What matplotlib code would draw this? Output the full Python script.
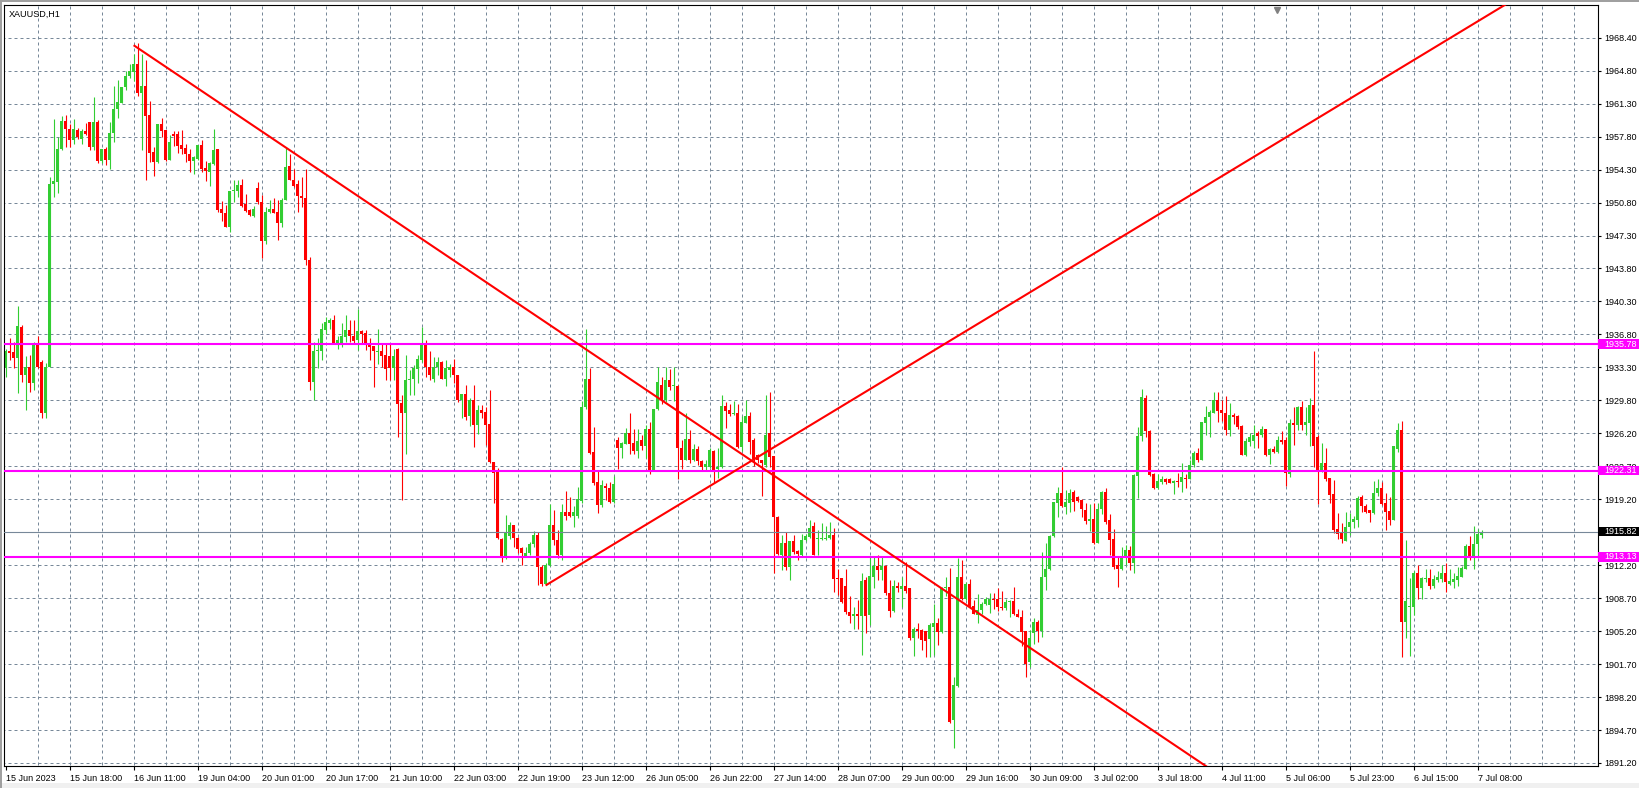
import numpy as np
import matplotlib
matplotlib.use('Agg')
import matplotlib.pyplot as plt
import matplotlib.transforms as mtransforms
from matplotlib.patches import Rectangle

symbol = 'XAUUSD,H1'

# hourly candles
opens = [
    1933.2, 1935.1, 1934.9, 1934.3, 1937.6, 1932.5, 1933.3, 1931.6, 1935.7, 1933.9,
    1928.4, 1933.3, 1952.8, 1953.0, 1956.5, 1959.5, 1958.7, 1957.5, 1958.6, 1957.6,
    1958.5, 1959.4, 1956.8, 1959.4, 1955.3, 1956.6, 1955.4, 1958.3, 1960.8, 1961.4,
    1963.1, 1964.3, 1964.8, 1965.6, 1962.5, 1963.3, 1960.2, 1956.2, 1955.2, 1959.2,
    1958.6, 1955.4, 1958.2, 1958.1, 1957.0, 1956.7, 1956.0, 1955.3, 1955.5, 1957.0,
    1954.5, 1954.1, 1955.0, 1956.5, 1950.2, 1949.7, 1948.3, 1952.1, 1952.1, 1952.7,
    1950.7, 1950.1, 1949.4, 1952.4, 1950.9, 1946.8, 1949.8, 1950.2, 1949.8, 1948.7,
    1951.1, 1954.7, 1953.3, 1952.8, 1951.5, 1951.3, 1944.7, 1931.8, 1935.0, 1935.1,
    1937.3, 1938.0, 1938.3, 1935.9, 1935.9, 1936.5, 1937.3, 1936.7, 1936.2, 1937.2,
    1937.0, 1935.75, 1935.6, 1934.9, 1935.05, 1934.6, 1934.5, 1933.2, 1935.3, 1929.5,
    1928.4, 1932.0, 1932.1, 1933.1, 1934.1, 1935.9, 1933.4, 1932.1, 1933.4, 1933.9,
    1932.1, 1933.0, 1933.3, 1932.5, 1929.8, 1930.5, 1928.1, 1929.8, 1927.2, 1928.8,
    1928.6, 1927.3, 1923.2, 1922.4, 1915.0, 1913.2, 1915.4, 1916.5, 1915.2, 1914.05,
    1913.2, 1913.5, 1914.5, 1915.5, 1912.1, 1910.3, 1912.3, 1916.5, 1914.9, 1913.3,
    1917.9, 1917.9, 1917.5, 1917.5, 1919.1, 1929.05, 1932.1, 1924.3, 1921.1, 1918.65,
    1920.7, 1920.5, 1919.0, 1925.6, 1924.7, 1925.2, 1926.3, 1925.3, 1924.45, 1925.6,
    1924.9, 1926.7, 1922.4, 1928.85, 1931.4, 1929.8, 1932.0, 1931.3, 1931.3, 1924.7,
    1923.5, 1925.65, 1923.5, 1924.6, 1923.35, 1922.7, 1922.7, 1924.4, 1922.5, 1922.7,
    1929.2, 1928.8, 1928.35, 1928.4, 1924.8, 1927.4, 1928.1, 1925.6, 1924.0, 1923.5,
    1922.9, 1926.3, 1923.9, 1917.4, 1913.3, 1914.6, 1912.1, 1914.8, 1913.8, 1913.35,
    1914.9, 1915.3, 1916.4, 1915.0, 1915.0, 1915.0, 1915.1, 1915.5, 1910.9, 1910.9,
    1910.05, 1907.3, 1906.8, 1907.05, 1906.8, 1910.7, 1906.95, 1910.97, 1912.2, 1911.7,
    1912.2, 1909.3, 1907.4, 1910.0, 1909.7, 1910.0, 1909.8, 1904.5, 1905.5, 1905.4,
    1905.3, 1904.4, 1905.7, 1906.1, 1905.1, 1909.8, 1909.9, 1895.8, 1899.4, 1911.0,
    1908.7, 1910.3, 1907.9, 1906.95, 1907.5, 1908.1, 1908.0, 1908.7, 1908.7, 1907.8,
    1907.7, 1908.3, 1908.4, 1907.06, 1906.7, 1905.3, 1902.0, 1905.0, 1906.25, 1905.2,
    1910.97, 1911.8, 1915.4, 1918.9, 1919.98, 1918.5, 1918.9, 1920.0, 1919.5, 1919.2,
    1918.1, 1917.0, 1917.2, 1914.65, 1918.2, 1920.0, 1917.05, 1915.0, 1912.3, 1911.9,
    1913.0, 1913.9, 1912.5, 1921.75, 1926.0, 1930.1, 1926.5, 1922.0, 1920.5, 1921.1,
    1921.4, 1921.4, 1921.0, 1921.2, 1921.1, 1921.5, 1921.4, 1922.9, 1924.2, 1923.5,
    1927.4, 1928.0, 1928.5, 1929.8, 1928.8, 1928.5, 1926.6, 1928.2, 1928.1, 1927.1,
    1924.0, 1925.4, 1925.5, 1926.3, 1926.1, 1926.7, 1924.0, 1924.6, 1924.3, 1925.6,
    1925.6, 1922.0, 1927.4, 1927.2, 1929.05, 1927.2, 1927.4, 1929.3, 1925.9, 1922.4,
    1923.1, 1921.5, 1919.8, 1916.1, 1915.7, 1914.8, 1916.3, 1916.8, 1917.1, 1919.5,
    1918.6, 1918.1, 1917.8, 1919.9, 1920.45, 1918.9, 1918.05, 1917.1, 1924.6, 1926.6,
    1906.2, 1907.8, 1907.8, 1911.4, 1909.8, 1910.75, 1910.85, 1910.0, 1910.7, 1910.75,
    1911.45, 1910.3, 1910.5, 1910.7, 1911.0, 1911.9, 1914.3, 1913.1, 1914.5, 1915.5,
]
highs = [
    1935.3, 1936.4, 1936.0, 1939.8, 1937.8, 1934.5, 1934.6, 1936.0, 1936.7, 1934.1,
    1933.8, 1953.6, 1959.7, 1957.8, 1960.1, 1960.2, 1959.2, 1959.7, 1958.8, 1958.7,
    1959.3, 1959.4, 1962.1, 1959.6, 1956.6, 1956.8, 1959.4, 1963.3, 1963.9, 1963.1,
    1964.9, 1965.6, 1966.7, 1967.8, 1966.7, 1966.0, 1961.7, 1956.8, 1959.2, 1959.8,
    1958.6, 1958.0, 1958.5, 1958.5, 1958.6, 1957.1, 1956.6, 1955.8, 1957.0, 1957.5,
    1955.3, 1955.2, 1958.7, 1956.5, 1951.0, 1950.6, 1952.1, 1953.3, 1953.3, 1953.4,
    1951.8, 1950.2, 1950.5, 1953.0, 1951.7, 1950.4, 1951.1, 1951.3, 1951.1, 1951.3,
    1956.8, 1956.0, 1954.4, 1953.2, 1953.6, 1954.4, 1945.1, 1936.0, 1936.4, 1938.0,
    1938.7, 1938.6, 1938.9, 1936.7, 1938.0, 1938.9, 1938.3, 1938.3, 1939.5, 1937.3,
    1937.3, 1936.4, 1935.6, 1937.35, 1935.9, 1935.75, 1935.8, 1935.3, 1935.4, 1930.4,
    1934.6, 1933.0, 1933.6, 1934.6, 1937.6, 1936.2, 1935.0, 1934.4, 1934.4, 1934.0,
    1934.1, 1933.7, 1934.2, 1932.5, 1930.5, 1931.4, 1930.0, 1931.4, 1929.3, 1929.3,
    1929.1, 1930.9, 1923.2, 1922.6, 1915.1, 1917.6, 1916.8, 1916.5, 1915.3, 1914.2,
    1914.2, 1914.75, 1915.9, 1915.8, 1912.3, 1912.5, 1918.8, 1918.1, 1916.0, 1918.8,
    1920.1, 1919.5, 1918.6, 1920.6, 1929.76, 1937.35, 1933.2, 1927.0, 1922.4, 1921.3,
    1921.0, 1921.1, 1921.7, 1925.9, 1925.4, 1926.9, 1928.5, 1926.7, 1926.8, 1926.1,
    1927.2, 1927.5, 1928.85, 1933.3, 1932.3, 1933.3, 1933.1, 1933.3, 1931.4, 1925.6,
    1928.4, 1926.6, 1925.2, 1924.9, 1923.5, 1923.5, 1924.7, 1924.5, 1924.7, 1930.4,
    1929.6, 1929.4, 1929.7, 1929.4, 1928.1, 1929.8, 1928.6, 1925.8, 1924.1, 1923.5,
    1930.4, 1930.7, 1923.9, 1917.5, 1915.5, 1915.8, 1914.8, 1915.5, 1913.9, 1915.6,
    1915.6, 1917.1, 1916.9, 1916.0, 1916.7, 1916.4, 1916.8, 1916.2, 1911.9, 1910.9,
    1911.9, 1909.0, 1907.8, 1908.5, 1911.4, 1911.0, 1913.2, 1913.2, 1913.3, 1913.2,
    1912.3, 1910.7, 1910.7, 1910.5, 1910.97, 1912.6, 1909.8, 1905.65, 1906.1, 1905.5,
    1905.3, 1906.1, 1908.1, 1906.6, 1909.97, 1911.0, 1912.0, 1900.4, 1913.0, 1912.8,
    1910.5, 1910.8, 1908.5, 1909.2, 1908.3, 1908.9, 1909.3, 1909.3, 1909.8, 1909.5,
    1908.7, 1908.55, 1909.9, 1907.6, 1907.5, 1905.3, 1905.4, 1906.6, 1906.4, 1913.7,
    1914.6, 1915.5, 1919.0, 1920.6, 1922.7, 1920.3, 1920.4, 1920.3, 1919.6, 1919.3,
    1918.9, 1918.8, 1918.9, 1918.9, 1920.2, 1920.5, 1917.7, 1916.1, 1913.1, 1914.15,
    1914.4, 1914.3, 1922.0, 1927.0, 1931.0, 1930.4, 1926.6, 1922.1, 1922.0, 1921.7,
    1921.5, 1921.5, 1921.3, 1922.1, 1923.1, 1921.96, 1923.45, 1924.4, 1924.7, 1927.5,
    1929.2, 1928.8, 1930.7, 1930.7, 1929.8, 1930.3, 1929.5, 1928.5, 1928.2, 1927.2,
    1925.75, 1926.3, 1927.2, 1926.5, 1927.1, 1926.8, 1924.7, 1924.9, 1926.0, 1926.5,
    1925.9, 1927.8, 1929.05, 1929.2, 1929.7, 1929.05, 1930.0, 1935.1, 1926.1, 1925.3,
    1924.7, 1921.5, 1921.3, 1917.8, 1916.7, 1917.95, 1917.8, 1917.5, 1919.6, 1919.7,
    1918.8, 1918.1, 1921.25, 1921.4, 1921.1, 1919.9, 1919.5, 1924.9, 1927.4, 1927.6,
    1914.9, 1910.85, 1911.6, 1912.3, 1911.0, 1911.9, 1911.9, 1911.2, 1911.6, 1912.3,
    1912.45, 1911.9, 1911.45, 1912.1, 1912.2, 1914.5, 1915.4, 1916.4, 1916.1, 1916.05,
]
lows = [
    1932.3, 1934.1, 1933.2, 1930.6, 1931.8, 1928.8, 1930.7, 1930.9, 1933.2, 1927.9,
    1927.9, 1933.3, 1951.4, 1951.9, 1956.4, 1956.8, 1956.8, 1957.1, 1957.6, 1957.1,
    1958.0, 1956.4, 1956.4, 1955.1, 1955.1, 1954.8, 1954.4, 1957.3, 1959.8, 1961.4,
    1962.8, 1964.1, 1963.8, 1962.2, 1956.4, 1953.2, 1955.2, 1953.7, 1955.1, 1957.8,
    1955.3, 1955.4, 1956.9, 1956.1, 1956.0, 1955.2, 1954.1, 1953.9, 1955.4, 1954.1,
    1953.1, 1952.6, 1954.8, 1949.9, 1948.9, 1948.2, 1947.7, 1950.9, 1951.4, 1950.4,
    1949.9, 1949.4, 1949.3, 1950.7, 1945.0, 1946.4, 1949.7, 1949.7, 1946.9, 1948.2,
    1951.1, 1953.2, 1952.5, 1949.8, 1950.4, 1944.2, 1930.9, 1929.8, 1933.2, 1934.1,
    1936.9, 1937.35, 1935.9, 1935.3, 1935.5, 1936.0, 1936.0, 1935.9, 1935.2, 1935.9,
    1935.15, 1934.1, 1931.2, 1933.7, 1933.4, 1932.0, 1932.0, 1932.0, 1925.9, 1919.2,
    1924.1, 1930.4, 1930.4, 1931.6, 1933.9, 1932.3, 1932.0, 1931.8, 1932.5, 1932.1,
    1931.3, 1932.3, 1931.6, 1929.65, 1927.9, 1927.7, 1927.1, 1924.8, 1926.2, 1927.9,
    1925.1, 1923.1, 1918.9, 1915.0, 1912.6, 1912.9, 1915.0, 1914.2, 1913.5, 1912.3,
    1913.2, 1913.3, 1914.2, 1910.1, 1910.0, 1910.1, 1912.2, 1914.4, 1913.0, 1912.8,
    1917.05, 1917.4, 1916.3, 1917.3, 1918.9, 1928.9, 1924.1, 1920.8, 1917.8, 1918.4,
    1919.2, 1918.9, 1918.9, 1922.5, 1923.7, 1925.2, 1924.1, 1924.1, 1923.7, 1924.5,
    1923.7, 1922.0, 1922.3, 1928.8, 1929.4, 1929.6, 1930.9, 1929.7, 1921.4, 1922.5,
    1923.4, 1923.1, 1923.3, 1922.9, 1922.3, 1922.3, 1922.6, 1920.97, 1921.5, 1922.6,
    1926.9, 1928.1, 1928.2, 1924.7, 1924.45, 1927.4, 1924.1, 1922.8, 1923.1, 1919.6,
    1922.7, 1922.7, 1911.4, 1913.3, 1911.75, 1911.7, 1910.7, 1913.45, 1912.8, 1913.2,
    1914.8, 1915.1, 1913.3, 1913.35, 1914.9, 1914.9, 1915.0, 1909.4, 1909.1, 1908.2,
    1907.1, 1906.1, 1905.5, 1905.5, 1902.7, 1905.0, 1905.9, 1909.8, 1910.7, 1910.7,
    1909.1, 1906.7, 1907.3, 1909.4, 1907.8, 1909.3, 1904.3, 1902.6, 1904.5, 1903.2,
    1902.5, 1902.5, 1902.7, 1903.8, 1905.0, 1909.0, 1895.5, 1892.8, 1899.3, 1908.6,
    1908.6, 1907.7, 1907.06, 1906.1, 1907.1, 1908.0, 1907.2, 1907.6, 1907.4, 1907.5,
    1907.5, 1906.7, 1906.96, 1906.7, 1903.6, 1900.4, 1901.4, 1903.9, 1904.1, 1904.6,
    1909.6, 1911.75, 1915.3, 1917.4, 1918.5, 1917.7, 1917.95, 1918.05, 1919.0, 1917.4,
    1916.6, 1915.9, 1914.5, 1914.6, 1917.7, 1916.6, 1913.3, 1911.9, 1909.97, 1911.7,
    1912.3, 1911.7, 1911.45, 1919.4, 1925.5, 1925.9, 1921.7, 1920.4, 1920.4, 1920.9,
    1920.9, 1921.0, 1919.8, 1920.6, 1920.0, 1920.5, 1921.4, 1922.7, 1923.2, 1923.45,
    1926.1, 1925.9, 1928.4, 1927.5, 1927.6, 1926.1, 1926.0, 1927.3, 1926.8, 1924.0,
    1923.9, 1924.9, 1924.7, 1924.7, 1925.9, 1923.9, 1923.0, 1924.2, 1924.2, 1925.2,
    1920.7, 1921.6, 1925.0, 1926.6, 1926.6, 1926.1, 1924.9, 1922.7, 1918.8, 1922.2,
    1921.25, 1918.9, 1915.7, 1915.0, 1914.65, 1914.8, 1915.5, 1916.2, 1916.3, 1917.95,
    1917.8, 1916.8, 1917.7, 1919.6, 1918.7, 1916.0, 1916.5, 1917.05, 1924.3, 1902.5,
    1904.5, 1902.6, 1906.95, 1908.7, 1908.7, 1910.5, 1909.7, 1909.8, 1910.5, 1910.5,
    1909.4, 1910.1, 1909.8, 1910.0, 1911.0, 1911.8, 1912.8, 1911.9, 1913.2, 1915.1,
]
closes = [
    1935.1, 1934.8, 1934.3, 1937.7, 1932.5, 1933.4, 1931.6, 1935.7, 1933.4, 1928.4,
    1933.3, 1952.8, 1953.1, 1956.5, 1959.5, 1958.7, 1957.5, 1958.7, 1957.8, 1958.5,
    1958.1, 1956.8, 1959.4, 1955.3, 1956.6, 1955.4, 1958.3, 1960.8, 1961.6, 1963.1,
    1964.3, 1964.9, 1965.6, 1962.5, 1963.3, 1960.1, 1956.1, 1955.2, 1959.2, 1958.5,
    1955.4, 1957.3, 1957.9, 1956.9, 1956.6, 1956.0, 1955.3, 1955.7, 1957.0, 1954.4,
    1954.2, 1955.1, 1956.4, 1950.1, 1949.7, 1948.3, 1952.1, 1952.1, 1952.7, 1950.5,
    1950.0, 1949.5, 1950.2, 1950.9, 1946.8, 1949.8, 1950.2, 1949.7, 1948.7, 1951.1,
    1954.6, 1953.3, 1952.6, 1951.5, 1951.3, 1944.7, 1931.8, 1935.0, 1935.2, 1937.35,
    1938.1, 1938.3, 1935.9, 1936.2, 1936.6, 1937.3, 1936.6, 1936.1, 1937.2, 1936.9,
    1935.8, 1935.5, 1935.0, 1935.05, 1934.5, 1933.1, 1933.2, 1934.5, 1929.4, 1928.4,
    1932.0, 1932.1, 1933.2, 1934.2, 1935.9, 1933.3, 1932.5, 1933.4, 1933.9, 1932.1,
    1933.2, 1933.3, 1932.5, 1929.8, 1930.5, 1928.0, 1929.8, 1927.2, 1928.8, 1928.5,
    1927.2, 1923.2, 1922.1, 1915.1, 1913.2, 1915.8, 1916.5, 1915.2, 1914.0, 1913.6,
    1913.5, 1914.5, 1915.5, 1912.1, 1910.3, 1912.3, 1916.5, 1914.9, 1913.3, 1917.9,
    1917.5, 1917.5, 1917.9, 1919.25, 1929.1, 1932.1, 1924.2, 1920.96, 1918.65, 1920.8,
    1920.5, 1919.0, 1920.9, 1924.7, 1925.3, 1926.3, 1925.2, 1924.45, 1925.5, 1924.9,
    1926.7, 1922.4, 1928.85, 1931.8, 1929.8, 1932.0, 1931.2, 1931.4, 1924.7, 1923.5,
    1925.65, 1923.5, 1924.6, 1923.3, 1922.7, 1923.0, 1924.5, 1922.4, 1922.7, 1929.2,
    1928.7, 1928.35, 1928.5, 1924.8, 1927.5, 1928.1, 1925.4, 1923.6, 1923.5, 1923.1,
    1926.1, 1923.8, 1917.35, 1913.45, 1914.6, 1912.1, 1914.8, 1913.7, 1913.45, 1914.9,
    1915.4, 1916.2, 1913.35, 1915.0, 1915.1, 1915.15, 1915.5, 1910.75, 1910.75, 1908.3,
    1907.3, 1906.8, 1907.05, 1906.8, 1910.6, 1906.8, 1911.1, 1912.2, 1911.75, 1912.2,
    1909.3, 1907.4, 1910.0, 1909.8, 1910.05, 1909.55, 1904.5, 1905.5, 1905.3, 1904.3,
    1904.2, 1905.9, 1906.1, 1905.1, 1909.8, 1909.97, 1895.6, 1899.5, 1911.0, 1908.7,
    1910.3, 1907.8, 1907.1, 1907.5, 1908.1, 1908.7, 1908.7, 1908.6, 1907.8, 1907.7,
    1908.3, 1908.4, 1907.06, 1906.7, 1905.1, 1901.7, 1904.5, 1906.25, 1905.2, 1910.97,
    1911.8, 1915.4, 1919.0, 1919.98, 1918.55, 1919.0, 1919.98, 1919.0, 1919.1, 1918.2,
    1917.0, 1917.2, 1914.65, 1918.2, 1920.0, 1916.9, 1914.95, 1912.1, 1911.9, 1913.0,
    1913.9, 1912.5, 1921.85, 1926.0, 1930.2, 1926.5, 1921.85, 1920.5, 1921.25, 1921.4,
    1921.15, 1921.0, 1921.2, 1921.1, 1921.6, 1921.4, 1922.9, 1924.2, 1923.5, 1927.5,
    1928.0, 1928.6, 1929.8, 1928.7, 1928.5, 1926.6, 1928.2, 1928.0, 1927.0, 1924.0,
    1925.5, 1925.85, 1926.1, 1926.0, 1926.7, 1924.0, 1924.6, 1924.3, 1925.6, 1925.4,
    1922.1, 1927.4, 1927.2, 1929.05, 1927.2, 1927.5, 1929.3, 1924.9, 1922.4, 1923.1,
    1921.4, 1919.7, 1916.0, 1915.6, 1915.0, 1916.3, 1916.9, 1917.2, 1919.4, 1918.6,
    1917.95, 1917.8, 1919.9, 1920.45, 1918.8, 1917.95, 1917.1, 1924.9, 1926.6, 1906.2,
    1908.4, 1907.9, 1911.4, 1909.8, 1910.85, 1910.85, 1910.0, 1910.75, 1910.95, 1911.45,
    1910.5, 1910.6, 1910.75, 1911.1, 1912.0, 1914.3, 1913.1, 1914.5, 1915.6, 1915.82,
]

time_labels = ['15 Jun 2023', '15 Jun 18:00', '16 Jun 11:00', '19 Jun 04:00', '20 Jun 01:00',
               '20 Jun 17:00', '21 Jun 10:00', '22 Jun 03:00', '22 Jun 19:00', '23 Jun 12:00',
               '26 Jun 05:00', '26 Jun 22:00', '27 Jun 14:00', '28 Jun 07:00', '29 Jun 00:00',
               '29 Jun 16:00', '30 Jun 09:00', '3 Jul 02:00', '3 Jul 18:00', '4 Jul 11:00',
               '5 Jul 06:00', '5 Jul 23:00', '6 Jul 15:00', '7 Jul 08:00']
price_labels = ['1891.20', '1894.70', '1898.20', '1901.70', '1905.20', '1908.70', '1912.20',
                '1915.70', '1919.20', '1922.70', '1926.20', '1929.80', '1933.30', '1936.80',
                '1940.30', '1943.80', '1947.30', '1950.80', '1954.30', '1957.80', '1961.30',
                '1964.80', '1968.40']

levels = [1935.78, 1922.31, 1913.13]
bid = 1915.82

# trendline anchors: (bar index, price)
trend_down = [(32, 1967.6), (286, 1894.9)]
trend_up = [(135, 1910.1), (220, 1932.0)]

W, H = 1639, 788
plt.rcParams['font.family'] = ['Liberation Sans', 'DejaVu Sans']
fs = 6.5
grid_col = '#778899'

fig = plt.figure(figsize=(W / 100, H / 100), dpi=100)
fig.patch.set_facecolor('white')
ax = fig.add_axes([4 / W, 22 / H, 1594 / W, 761 / H])
ax.set_xlim(-0.4, 398.1)
ax.set_ylim(1890.88, 1971.88)

# grid
ytick_pos = np.linspace(1891.2, 1968.4, len(price_labels))
ax.hlines(ytick_pos, -1, 400, colors=grid_col, linewidth=0.72, linestyles=(0, (3, 3)), zorder=0.5)
ax.vlines(np.arange(8, 400, 8), 1880, 1980, colors=grid_col, linewidth=0.72, linestyles=(0, (3, 3)), zorder=0.5)

# candles
o = np.array(opens)
h = np.array(highs)
l = np.array(lows)
c = np.array(closes)
x = np.arange(len(o))
col = np.where(c >= o, '#32CD32', '#FF0000')
ax.vlines(x, l, h, colors=col, linewidth=0.8, zorder=2)
ax.bar(x, np.maximum(np.abs(c - o), 0.1), bottom=np.minimum(o, c), width=0.78,
       color=col, linewidth=0, zorder=2)

# horizontal levels + bid line
trans = mtransforms.blended_transform_factory(ax.transAxes, ax.transData)
ax.axhline(bid, color=grid_col, linewidth=0.8, zorder=2.6)
for lv in levels:
    ax.axhline(lv, color='#FF00FF', linewidth=1.5, zorder=3)

# trendlines (rays to the right)
for (x0, y0), (x1, y1) in [trend_down, trend_up]:
    k = (y1 - y0) / (x1 - x0)
    ax.plot([x0, 420], [y0, y0 + k * (420 - x0)], color='#FF0000', linewidth=1.5,
            solid_capstyle='butt', zorder=3)

# axes / ticks
for s in ax.spines.values():
    s.set_color('black')
    s.set_linewidth(0.8)
ax.set_xticks(np.arange(0, 16 * len(time_labels), 16))
ax.set_xticklabels(time_labels)
for lab in ax.get_xticklabels():
    lab.set_ha('left')
ax.tick_params(axis='x', length=3, width=0.8, pad=2.5, labelsize=fs, colors='black')
ax.yaxis.tick_right()
ax.set_yticks(ytick_pos)
ax.set_yticklabels(price_labels)
ax.tick_params(axis='y', length=2.5, width=0.8, pad=2, labelsize=fs, colors='black')

# price boxes on the right scale
boxes = [(lv, '#FF00FF') for lv in levels] + [(bid, 'black')]
for lv, bc in boxes:
    ax.add_patch(Rectangle((1.0, lv - 0.5), 0.04, 1.0, transform=trans, facecolor=bc,
                           edgecolor='none', clip_on=False, zorder=5))
    ax.text(1.0038, lv, f'{lv:.2f}', transform=trans, color='white', fontsize=fs,
            ha='left', va='center', zorder=6, clip_on=False)

ax.text(0.0028, 0.988, symbol, transform=ax.transAxes, fontsize=fs, ha='left', va='center')
ax.plot([0.7986], [0.994], marker='v', color='#808080', markersize=5,
        transform=ax.transAxes, clip_on=False, zorder=6)

# window chrome
fig.patches.append(Rectangle((0, 0), 1, 5 / H, transform=fig.transFigure,
                             facecolor='#F0F0F0', edgecolor='none', zorder=-1))
fig.patches.append(Rectangle((0, 0), 2 / W, 1, transform=fig.transFigure,
                             facecolor='#A0A0A0', edgecolor='none', zorder=-1))
fig.patches.append(Rectangle((0, 1 - 2 / H), 1, 2 / H, transform=fig.transFigure,
                             facecolor='#A0A0A0', edgecolor='none', zorder=-1))

fig.savefig('out.png', dpi=100)
